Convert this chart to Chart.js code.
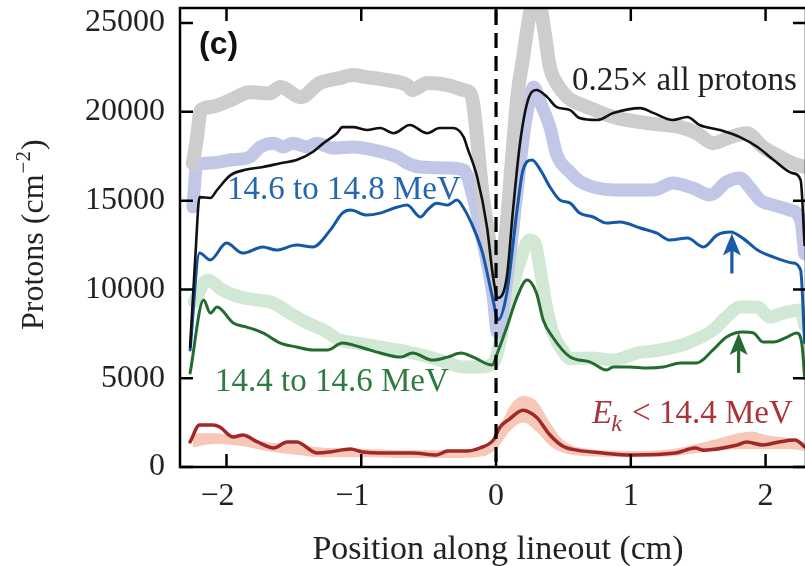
<!DOCTYPE html>
<html lang="en">
<head>
<meta charset="UTF-8">
<title>Protons along lineout</title>
<script src="https://cdn.jsdelivr.net/npm/chart.js"></script>
<style>
  html, body { margin: 0; padding: 0; background: #fff; }
  #wrap { width: 805px; height: 566px; overflow: hidden; }
  canvas { display: block; }
</style>
</head>
<body>
<div id="wrap"><canvas id="chart" width="812" height="566"></canvas></div>
<script>
// positions in cm, values in protons per cm^2
const xTicks = [-2, -1, 0, 1, 2];
const yTicks = [0, 5000, 10000, 15000, 20000, 25000];

// 0.25x all protons (thick gray)
const allX = [-2.25,-2.22,-2.19,-2.12,-1.97,-1.83,-1.68,-1.60,-1.45,-1.31,-1.16,-1.06,-0.96,-0.81,-0.66,-0.62,-0.51,-0.36,-0.24,-0.19,-0.17,-0.10,-0.045,0.005,0.07,0.12,0.16,0.20,0.25,0.30,0.36,0.40,0.45,0.53,0.68,0.87,1.12,1.37,1.49,1.61,1.74,1.86,1.98,2.11,2.20,2.29];
const allY = [17100,18500,20100,20270,20660,21110,21050,21400,20830,21620,21900,22070,21960,21790,21510,21230,21620,21510,21230,21050,20500,15400,12500,10200,13000,17500,21000,23000,25500,27000,24500,22500,21600,20830,20270,19710,19370,19140,18800,18240,18580,18800,18020,17450,17110,16900];

// black thin line
const blackX = [-2.27,-2.23,-2.20,-2.12,-2.07,-1.97,-1.85,-1.73,-1.60,-1.48,-1.36,-1.28,-1.18,-1.14,-1.06,-0.96,-0.86,-0.76,-0.64,-0.51,-0.42,-0.32,-0.24,-0.215,-0.14,-0.067,-0.022,0.015,0.08,0.126,0.178,0.237,0.30,0.38,0.45,0.55,0.62,0.75,0.87,1.07,1.17,1.31,1.42,1.51,1.66,1.81,1.94,2.06,2.20,2.26,2.29];
const blackY = [6760,12000,15200,15150,15600,16440,16750,16890,17110,17290,17740,18240,18800,19140,19140,18980,19090,18800,19260,18800,19090,19090,18580,18020,16330,13510,10700,9520,10700,14470,18240,20660,21230,20830,20270,20100,19650,19540,19930,20210,19930,19540,19710,19260,18980,18580,18020,17290,16550,16160,12500];

// 14.6 to 14.8 MeV, thick band
const lavX = [-2.25,-2.22,-2.12,-1.97,-1.83,-1.75,-1.65,-1.58,-1.51,-1.40,-1.33,-1.21,-1.06,-0.91,-0.73,-0.66,-0.56,-0.36,-0.24,-0.17,-0.10,-0.02,0.01,0.08,0.156,0.22,0.28,0.33,0.40,0.45,0.55,0.62,0.75,0.87,1.05,1.17,1.31,1.46,1.59,1.71,1.81,1.88,1.96,2.06,2.18,2.26,2.29];
const lavY = [14640,17000,17120,17290,17450,18020,18240,18020,18240,18020,18240,17960,18020,17850,17450,17120,16890,16840,16720,15200,12800,9500,7600,10500,15500,19500,21400,20500,19140,17600,16600,16100,15710,15600,15600,15600,15990,15710,15320,16050,16270,15770,15030,14750,14470,13910,12000];

// 14.6 to 14.8 MeV, thin blue
const blueX = [-2.27,-2.20,-2.12,-2.00,-1.88,-1.73,-1.63,-1.48,-1.36,-1.23,-1.14,-1.08,-0.96,-0.86,-0.73,-0.66,-0.56,-0.51,-0.44,-0.36,-0.29,-0.245,-0.17,-0.10,-0.022,0.015,0.08,0.156,0.20,0.267,0.33,0.40,0.475,0.55,0.62,0.72,0.82,0.92,1.07,1.19,1.29,1.42,1.54,1.64,1.74,1.83,1.94,2.06,2.20,2.26,2.29];
const blueY = [6590,12050,11660,12610,12050,12390,12220,12500,12390,13340,14300,14470,14190,14300,14640,14750,14080,14470,14860,14750,15030,14640,13510,12050,9400,8280,9800,14470,16720,17290,16720,15770,15030,14860,14300,14080,13740,13800,13460,13180,12780,12890,12390,13060,13230,12890,12220,11820,11490,11090,7000];

// 14.4 to 14.6 MeV, thick band
const lgX = [-2.24,-2.14,-2.03,-1.90,-1.77,-1.65,-1.53,-1.40,-1.28,-1.16,-1.03,-0.86,-0.73,-0.62,-0.47,-0.36,-0.24,-0.12,-0.02,0.08,0.18,0.25,0.29,0.33,0.37,0.42,0.50,0.55,0.70,0.87,1.05,1.22,1.42,1.61,1.71,1.81,1.94,2.03,2.13,2.26,2.29];
const lgY = [9300,10530,9970,9570,9400,9230,8670,8110,7710,7150,6980,6760,6590,6420,6140,5860,5630,5630,5860,8840,11660,12780,12600,11000,9200,7600,6500,6100,6140,6020,6420,6590,6980,7710,8450,9010,9010,8450,8670,8840,8000];

// 14.4 to 14.6 MeV, thin green
const dgX = [-2.27,-2.17,-2.12,-2.07,-1.95,-1.85,-1.73,-1.60,-1.48,-1.36,-1.25,-1.14,-1.01,-0.86,-0.71,-0.62,-0.47,-0.36,-0.26,-0.17,-0.03,0.01,0.08,0.156,0.23,0.30,0.35,0.42,0.55,0.70,0.82,0.87,0.99,1.12,1.24,1.37,1.49,1.61,1.71,1.83,1.91,1.98,2.06,2.16,2.23,2.27,2.29];
const dgY = [5290,9400,8670,9010,8110,7880,7550,6980,6760,6590,6590,6980,6760,6420,6190,6420,6020,6190,6420,6190,5740,6420,7880,9570,10530,9800,8280,7320,6190,5910,5460,5630,5630,5570,5630,5860,5860,6590,7320,7600,7550,7040,7040,7320,7550,6900,5000];

// Ek < 14.4 MeV, thin red
const redX = [-2.27,-2.20,-2.10,-2.05,-1.95,-1.88,-1.77,-1.65,-1.55,-1.48,-1.33,-1.23,-1.08,-0.99,-0.86,-0.62,-0.44,-0.36,-0.22,-0.12,-0.02,0.03,0.10,0.20,0.30,0.40,0.50,0.60,0.79,1.01,1.33,1.48,1.54,1.79,1.86,1.98,2.10,2.22,2.29];
const redY = [1410,2360,2360,2250,1690,1800,1410,1070,1410,1410,790,850,1010,850,790,790,680,900,900,1070,1520,2250,2700,3200,2800,1800,1150,950,790,680,790,1070,950,1240,1410,1240,1410,1520,1130];

// Ek < 14.4 MeV, shaded band
const bandX = [-2.25,-2.1,-1.9,-1.7,-1.5,-1.3,-1.1,-0.9,-0.7,-0.5,-0.3,-0.1,0,0.1,0.2,0.3,0.4,0.5,0.7,1.0,1.3,1.6,1.8,1.9,2.0,2.2,2.29];
const bandHi = [1900,1900,1700,1400,1300,1100,1050,1000,950,950,950,1100,1800,3400,4000,3700,2500,1500,1000,900,1000,1500,1900,2000,1800,1600,1400];
const bandLo = [1100,1300,1200,900,700,550,550,550,500,500,500,600,1000,2000,2500,2000,1200,800,600,550,600,900,1000,1000,1000,1000,900];

const pts = (xs, ys) => xs.map((x, i) => ({ x: x, y: ys[i] }));

const SERIF = '"Liberation Serif", "Times New Roman", serif';

function line(data, color, width, order) {
  return {
    data: data, borderColor: color, borderWidth: width, pointRadius: 0,
    fill: false, cubicInterpolationMode: 'monotone', clip: 0, order: order,
    borderJoinStyle: 'round', borderCapStyle: 'round'
  };
}

const extras = {
  id: 'extras',
  afterDatasetsDraw(chart) {
    const ctx = chart.ctx, a = chart.chartArea;
    const xs = chart.scales.x, ys = chart.scales.y;
    ctx.save();

    // dashed line at zero
    ctx.strokeStyle = '#000';
    ctx.lineWidth = 3.2;
    ctx.setLineDash([15, 8]);
    ctx.beginPath();
    ctx.moveTo(xs.getPixelForValue(0), a.top + 2);
    ctx.lineTo(xs.getPixelForValue(0), a.bottom);
    ctx.stroke();
    ctx.setLineDash([]);

    // frame and inward ticks
    ctx.lineWidth = 2.5;
    ctx.strokeRect(a.left, a.top, a.right - a.left, a.bottom - a.top);
    ctx.beginPath();
    xTicks.forEach(v => {
      const p = xs.getPixelForValue(v);
      ctx.moveTo(p, a.bottom); ctx.lineTo(p, a.bottom - 13);
      ctx.moveTo(p, a.top); ctx.lineTo(p, a.top + 13);
    });
    yTicks.forEach(v => {
      const p = ys.getPixelForValue(v);
      ctx.moveTo(a.left, p); ctx.lineTo(a.left + 13, p);
      ctx.moveTo(a.right, p); ctx.lineTo(a.right - 13, p);
    });
    ctx.stroke();

    // x tick labels, digit centred on tick
    ctx.fillStyle = '#222';
    ctx.font = '32px ' + SERIF;
    ctx.textBaseline = 'alphabetic';
    ctx.textAlign = 'right';
    const dw = ctx.measureText('2').width;
    xTicks.forEach(v => {
      const s = (v < 0 ? '\u2212' : '') + Math.abs(v);
      ctx.fillText(s, xs.getPixelForValue(v) + dw / 2, 505);
    });

    // axis titles
    ctx.textAlign = 'center';
    ctx.font = '34px ' + SERIF;
    ctx.fillText('Position along lineout (cm)', 498, 559);
    ctx.font = '32px ' + SERIF;

    ctx.save();
    ctx.translate(43, 330);
    ctx.rotate(-Math.PI / 2);
    ctx.textAlign = 'left';
    let t = 'Protons (cm';
    ctx.fillText(t, 0, 0);
    let w = ctx.measureText(t).width;
    ctx.font = '21px ' + SERIF;
    ctx.fillText('\u22122', w + 1, -13);
    w += ctx.measureText('\u22122').width + 2;
    ctx.font = '32px ' + SERIF;
    ctx.fillText(')', w, 0);
    ctx.restore();

    // panel label
    ctx.textAlign = 'left';
    ctx.fillStyle = '#111';
    ctx.font = 'bold 32px "Liberation Sans", Arial, sans-serif';
    ctx.fillText('(c)', 199, 54);

    // series labels
    ctx.font = '33px ' + SERIF;
    ctx.fillStyle = '#222';
    ctx.fillText('0.25\u00d7 all protons', 572, 90);
    ctx.fillStyle = '#2566b0';
    ctx.fillText('14.6 to 14.8 MeV', 227, 199);
    ctx.fillStyle = '#2e7a40';
    ctx.fillText('14.4 to 14.6 MeV', 215, 391);

    ctx.fillStyle = '#a8343a';
    ctx.font = 'italic 33px ' + SERIF;
    ctx.fillText('E', 592, 423);
    let ex = 592 + ctx.measureText('E').width;
    ctx.font = 'italic 24px ' + SERIF;
    ctx.fillText('k', ex - 1, 431);
    ex += ctx.measureText('k').width + 1;
    ctx.font = '33px ' + SERIF;
    ctx.fillText(' < 14.4 MeV', ex, 423);

    // arrows marking the bumps
    function arrow(xv, y0, y1, color) {
      const px = xs.getPixelForValue(xv);
      const pb = ys.getPixelForValue(y0), pt = ys.getPixelForValue(y1);
      ctx.strokeStyle = color; ctx.fillStyle = color;
      ctx.lineWidth = 3.2;
      ctx.beginPath(); ctx.moveTo(px, pb); ctx.lineTo(px, pt + 12); ctx.stroke();
      ctx.beginPath();
      ctx.moveTo(px, pt);
      ctx.lineTo(px - 9, pt + 22);
      ctx.lineTo(px, pt + 17);
      ctx.lineTo(px + 9, pt + 22);
      ctx.closePath(); ctx.fill();
    }
    arrow(1.75, 10900, 13150, '#1a5aa8');
    arrow(1.80, 5300, 7550, '#236b33');

    ctx.restore();
  }
};

new Chart(document.getElementById('chart'), {
  type: 'line',
  data: {
    datasets: [
      line(pts(blackX, blackY), '#111', 2.6, 1),
      line(pts(blueX, blueY), '#1558a8', 3, 1),
      line(pts(dgX, dgY), '#236b2e', 3, 1),
      line(pts(redX, redY), '#a02828', 3.5, 1),
      line(pts(allX, allY), '#cdcdcd', 14, 3),
      line(pts(lavX, lavY), '#c2c7e7', 13, 3),
      line(pts(lgX, lgY), '#d0e8d4', 13, 3),
      Object.assign(line(pts(bandX, bandHi), 'rgba(0,0,0,0)', 0, 4),
        { fill: { target: 8 }, backgroundColor: '#f7c8b8' }),
      line(pts(bandX, bandLo), 'rgba(0,0,0,0)', 0, 4)
    ]
  },
  options: {
    responsive: false,
    devicePixelRatio: 1,
    animation: false,
    layout: { padding: { left: 0, right: 6, top: 8, bottom: 0 } },
    plugins: { legend: { display: false }, tooltip: { enabled: false } },
    scales: {
      x: {
        type: 'linear', min: -2.345, max: 2.30,
        grid: { display: false, drawTicks: false },
        border: { display: false },
        ticks: { display: false },
        afterFit: s => { s.height = 99; s.paddingLeft = 0; s.paddingRight = 0; }
      },
      y: {
        min: 0, max: 25850,
        grid: { display: false, drawTicks: false },
        border: { display: false },
        afterBuildTicks: s => { s.ticks = yTicks.map(v => ({ value: v })); },
        ticks: {
          color: '#222', padding: 15, font: { family: SERIF, size: 32 },
          callback: v => String(v)
        },
        afterFit: s => { s.width = 180; s.paddingTop = 0; s.paddingBottom = 0; }
      }
    }
  },
  plugins: [extras]
});
</script>
</body>
</html>
